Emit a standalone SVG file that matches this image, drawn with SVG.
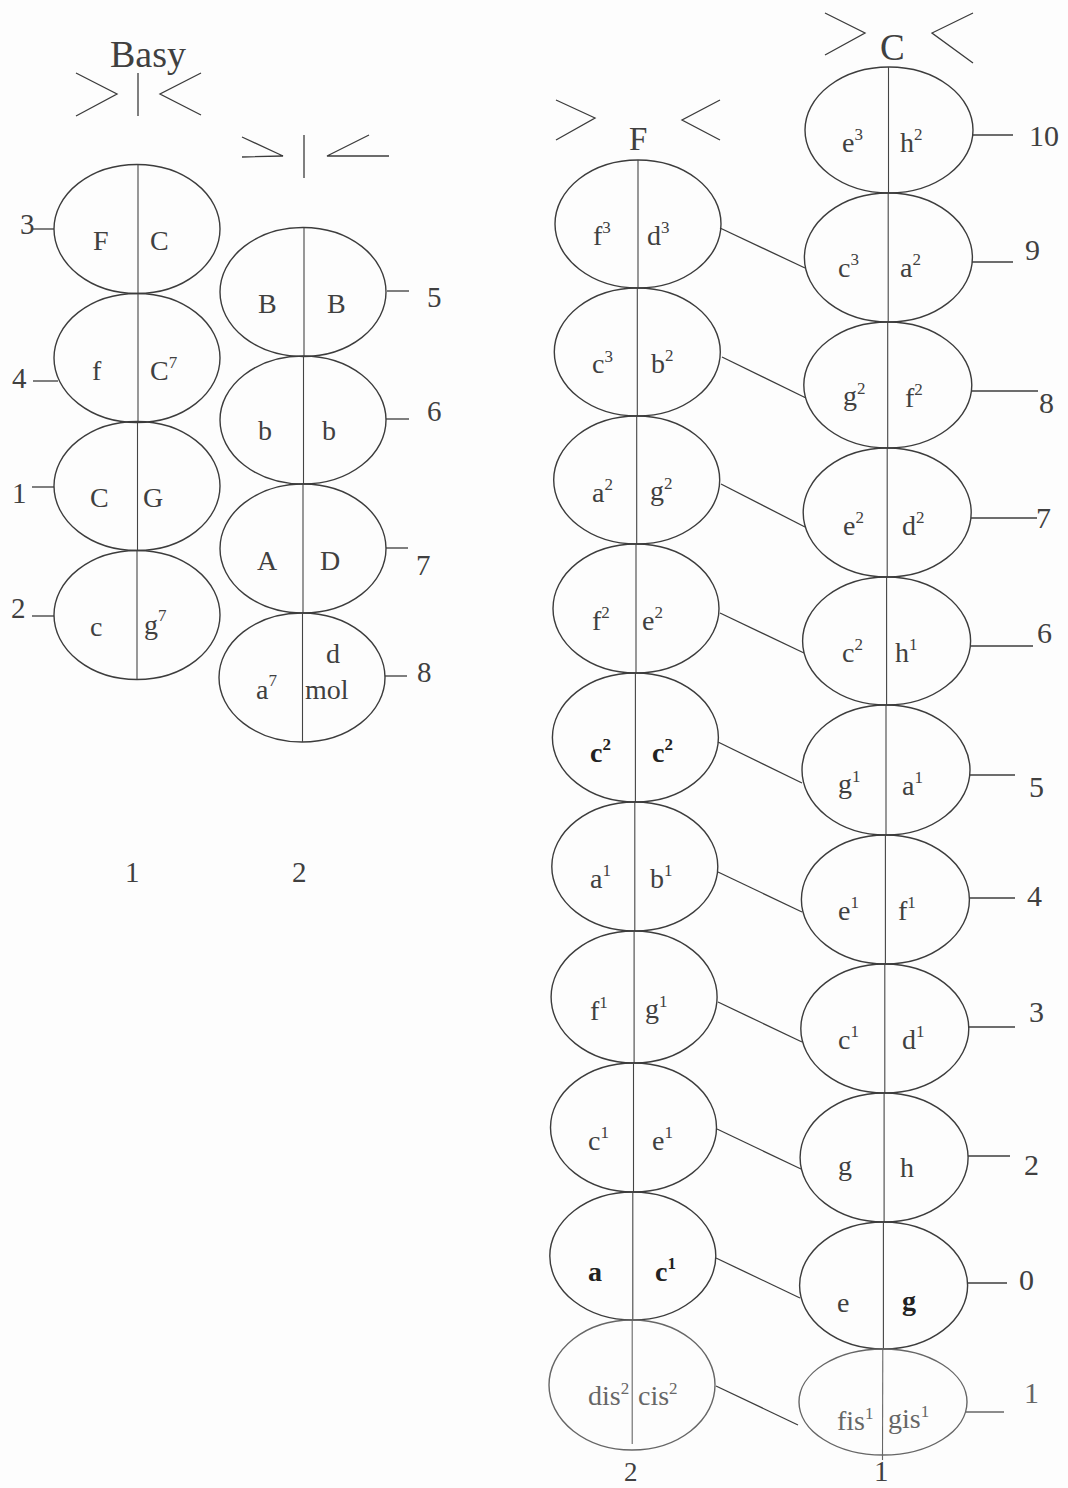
<svg xmlns="http://www.w3.org/2000/svg" width="1068" height="1488" viewBox="0 0 1068 1488">
<style>
  .bg { fill: #fdfdfd; }
  ellipse { fill: none; stroke: #3c3c3c; stroke-width: 1.4; }
  line, polyline { stroke: #3c3c3c; stroke-width: 1.3; fill: none; }
  .div { stroke: #444; stroke-width: 1.1; }
  text { font-family: "Liberation Serif", "Times New Roman", serif; fill: #404040; }
  .t { font-size: 28px; }
  .b { font-weight: bold; fill: #222; }
  .sup { font-size: 17px; }
  .lbl { font-size: 29px; }
  .rl { font-size: 30px; }
  .title { font-size: 38px; }
  .faded ellipse, .faded line { stroke: #666; }
  .faded text { fill: #666; }
</style>
<rect class="bg" x="0" y="0" width="1068" height="1488"/>

<!-- Headers -->
<g id="header-basy">
  <text class="title" x="110" y="67">Basy</text>
  <polyline points="76,73 117,94 76,116"/>
  <line x1="138" y1="73" x2="138" y2="116"/>
  <polyline points="201,73 160,94 201,115"/>
</g>
<g id="header-basy2">
  <polyline points="242,137 283,156 242,157"/>
  <line x1="304" y1="135" x2="304" y2="178"/>
  <polyline points="369,135 327,156 389,156"/>
</g>
<g id="header-F">
  <polyline points="556,100 595,118 556,140"/>
  <text x="629" y="150" style="font-size:33px">F</text>
  <polyline points="720,100 682,120 720,140"/>
</g>
<g id="header-C">
  <polyline points="825,13 865,33 825,55"/>
  <text x="880" y="60" style="font-size:37px">C</text>
  <polyline points="973,13 932,33 973,63"/>
</g>

<!-- Basy column 1 -->
<g id="b1-1">
  <ellipse cx="137" cy="229" rx="83" ry="64.5"/>
  <line class="div" x1="138" y1="164.5" x2="138" y2="293.5"/>
  <text class="t" x="93" y="250">F</text>
  <text class="t" x="150" y="250">C</text>
  <line x1="33" y1="229" x2="54" y2="229"/>
  <text class="lbl" x="20" y="234">3</text>
</g>
<g id="b1-2">
  <ellipse cx="137" cy="358" rx="83" ry="64.5"/>
  <line class="div" x1="138" y1="293.5" x2="138" y2="422.5"/>
  <text class="t" x="92" y="380">f</text>
  <text class="t" x="150" y="380">C<tspan class="sup" dy="-12">7</tspan></text>
  <line x1="33" y1="381" x2="58" y2="381"/>
  <text class="lbl" x="12" y="388">4</text>
</g>
<g id="b1-3">
  <ellipse cx="137" cy="486" rx="83" ry="64.5"/>
  <line class="div" x1="137.5" y1="422.5" x2="137.5" y2="550.5"/>
  <text class="t" x="90" y="507">C</text>
  <text class="t" x="143" y="507">G</text>
  <line x1="32" y1="487" x2="54" y2="487"/>
  <text class="lbl" x="12" y="503">1</text>
</g>
<g id="b1-4">
  <ellipse cx="137" cy="615" rx="83" ry="64.5"/>
  <line class="div" x1="137" y1="550.5" x2="137" y2="679.5"/>
  <text class="t" x="90" y="636">c</text>
  <text class="t" x="144" y="634">g<tspan class="sup" dy="-13">7</tspan></text>
  <line x1="32" y1="616" x2="54" y2="616"/>
  <text class="lbl" x="11" y="618">2</text>
</g>

<!-- Basy column 2 -->
<g id="b2-5">
  <ellipse cx="303" cy="292" rx="83" ry="64.5"/>
  <line class="div" x1="304" y1="227.5" x2="304" y2="356.5"/>
  <text class="t" x="258" y="313">B</text>
  <text class="t" x="327" y="313">B</text>
  <line x1="387" y1="291" x2="409" y2="291"/>
  <text class="lbl" x="427" y="307">5</text>
</g>
<g id="b2-6">
  <ellipse cx="303" cy="420" rx="83" ry="64"/>
  <line class="div" x1="303.5" y1="356" x2="303.5" y2="484"/>
  <text class="t" x="258" y="440">b</text>
  <text class="t" x="322" y="440">b</text>
  <line x1="386" y1="419" x2="409" y2="419"/>
  <text class="lbl" x="427" y="421">6</text>
</g>
<g id="b2-7">
  <ellipse cx="303" cy="548.5" rx="83" ry="64.5"/>
  <line class="div" x1="303" y1="484" x2="303" y2="613"/>
  <text class="t" x="257" y="570">A</text>
  <text class="t" x="320" y="570">D</text>
  <line x1="386" y1="548" x2="408" y2="548"/>
  <text class="lbl" x="416" y="575">7</text>
</g>
<g id="b2-8">
  <ellipse cx="302" cy="677.5" rx="83" ry="64.5"/>
  <line class="div" x1="302.5" y1="613" x2="302.5" y2="742"/>
  <text class="t" x="256" y="699">a<tspan class="sup" dy="-13">7</tspan></text>
  <text class="t" x="326" y="663">d</text>
  <text class="t" x="305" y="699">mol</text>
  <line x1="385" y1="676" x2="407" y2="676"/>
  <text class="lbl" x="417" y="682">8</text>
</g>

<g id="basy-footer">
  <text class="lbl" x="125" y="882">1</text>
  <text class="lbl" x="292" y="882">2</text>
</g>

<!-- F column -->
<g id="F1">
  <ellipse cx="638" cy="224" rx="83" ry="64"/>
  <line class="div" x1="638" y1="160" x2="638" y2="288"/>
  <text class="t" x="593" y="245">f<tspan class="sup" dy="-12">3</tspan></text>
  <text class="t" x="647" y="245">d<tspan class="sup" dy="-12">3</tspan></text>
</g>
<g id="F2">
  <ellipse cx="637.3" cy="352" rx="83" ry="64"/>
  <line class="div" x1="637.3" y1="288" x2="637.3" y2="416"/>
  <text class="t" x="592" y="373">c<tspan class="sup" dy="-11">3</tspan></text>
  <text class="t" x="651" y="373">b<tspan class="sup" dy="-12">2</tspan></text>
</g>
<g id="F3">
  <ellipse cx="636.7" cy="480" rx="83" ry="64"/>
  <line class="div" x1="636.7" y1="416" x2="636.7" y2="544"/>
  <text class="t" x="592" y="502">a<tspan class="sup" dy="-12">2</tspan></text>
  <text class="t" x="650" y="500">g<tspan class="sup" dy="-11">2</tspan></text>
</g>
<g id="F4">
  <ellipse cx="636" cy="608.5" rx="83" ry="64.5"/>
  <line class="div" x1="636" y1="544" x2="636" y2="673"/>
  <text class="t" x="592" y="630">f<tspan class="sup" dy="-12">2</tspan></text>
  <text class="t" x="642" y="630">e<tspan class="sup" dy="-12">2</tspan></text>
</g>
<g id="F5">
  <ellipse cx="635.4" cy="737.5" rx="83" ry="64.5"/>
  <line class="div" x1="635.4" y1="673" x2="635.4" y2="802"/>
  <text class="t b" x="590" y="762">c<tspan class="sup" dy="-12">2</tspan></text>
  <text class="t b" x="652" y="762">c<tspan class="sup" dy="-12">2</tspan></text>
</g>
<g id="F6">
  <ellipse cx="634.8" cy="866.5" rx="83" ry="64.5"/>
  <line class="div" x1="634.8" y1="802" x2="634.8" y2="931"/>
  <text class="t" x="590" y="888">a<tspan class="sup" dy="-12">1</tspan></text>
  <text class="t" x="650" y="888">b<tspan class="sup" dy="-12">1</tspan></text>
</g>
<g id="F7">
  <ellipse cx="634.1" cy="997" rx="83" ry="66"/>
  <line class="div" x1="634.1" y1="931" x2="634.1" y2="1063"/>
  <text class="t" x="590" y="1020">f<tspan class="sup" dy="-12">1</tspan></text>
  <text class="t" x="645" y="1018">g<tspan class="sup" dy="-11">1</tspan></text>
</g>
<g id="F8">
  <ellipse cx="633.5" cy="1127.5" rx="83" ry="64.5"/>
  <line class="div" x1="633.5" y1="1063" x2="633.5" y2="1192"/>
  <text class="t" x="588" y="1150">c<tspan class="sup" dy="-12">1</tspan></text>
  <text class="t" x="652" y="1150">e<tspan class="sup" dy="-12">1</tspan></text>
</g>
<g id="F9">
  <ellipse cx="632.8" cy="1256" rx="83" ry="64"/>
  <line class="div" x1="632.8" y1="1192" x2="632.8" y2="1320"/>
  <text class="t b" x="588" y="1281">a</text>
  <text class="t b" x="655" y="1281">c<tspan class="sup" dy="-12">1</tspan></text>
</g>
<g id="F10" class="faded">
  <ellipse cx="632" cy="1385" rx="83" ry="65"/>
  <line class="div" x1="632.2" y1="1320" x2="632.2" y2="1444"/>
  <text class="t" x="588" y="1405">dis<tspan class="sup" dy="-11">2</tspan></text>
  <text class="t" x="638" y="1405">cis<tspan class="sup" dy="-11">2</tspan></text>
</g>
<g id="F-footer">
  <text x="624" y="1481" style="font-size:27px">2</text>
</g>

<!-- C column -->
<g id="C10">
  <ellipse cx="889" cy="130" rx="84" ry="63"/>
  <line class="div" x1="888.5" y1="67" x2="888.5" y2="193"/>
  <text class="t" x="842" y="152">e<tspan class="sup" dy="-12">3</tspan></text>
  <text class="t" x="900" y="152">h<tspan class="sup" dy="-12">2</tspan></text>
  <line x1="973" y1="135" x2="1013" y2="135"/>
  <text class="rl" x="1029" y="146">10</text>
</g>
<g id="C9">
  <ellipse cx="888.4" cy="257.5" rx="84" ry="64.5"/>
  <line class="div" x1="888.2" y1="193" x2="888.2" y2="322"/>
  <text class="t" x="838" y="277">c<tspan class="sup" dy="-12">3</tspan></text>
  <text class="t" x="900" y="277">a<tspan class="sup" dy="-12">2</tspan></text>
  <line x1="972" y1="262" x2="1013" y2="262"/>
  <text class="rl" x="1025" y="260">9</text>
</g>
<g id="C8">
  <ellipse cx="887.8" cy="385" rx="84" ry="63"/>
  <line class="div" x1="887.7" y1="322" x2="887.7" y2="448"/>
  <text class="t" x="843" y="405">g<tspan class="sup" dy="-11">2</tspan></text>
  <text class="t" x="905" y="407">f<tspan class="sup" dy="-12">2</tspan></text>
  <line x1="972" y1="391" x2="1038" y2="391"/>
  <text class="rl" x="1039" y="413">8</text>
</g>
<g id="C7">
  <ellipse cx="887.2" cy="512.5" rx="84" ry="64.5"/>
  <line class="div" x1="887.2" y1="448" x2="887.2" y2="577"/>
  <text class="t" x="843" y="535">e<tspan class="sup" dy="-12">2</tspan></text>
  <text class="t" x="902" y="535">d<tspan class="sup" dy="-12">2</tspan></text>
  <line x1="971" y1="518" x2="1037" y2="518"/>
  <text class="rl" x="1036" y="528">7</text>
</g>
<g id="C6">
  <ellipse cx="886.6" cy="641" rx="84" ry="64"/>
  <line class="div" x1="886.6" y1="577" x2="886.6" y2="705"/>
  <text class="t" x="842" y="662">c<tspan class="sup" dy="-12">2</tspan></text>
  <text class="t" x="895" y="662">h<tspan class="sup" dy="-12">1</tspan></text>
  <line x1="971" y1="646" x2="1033" y2="646"/>
  <text class="rl" x="1037" y="643">6</text>
</g>
<g id="C5">
  <ellipse cx="886" cy="770" rx="84" ry="65"/>
  <line class="div" x1="886" y1="705" x2="886" y2="835"/>
  <text class="t" x="838" y="793">g<tspan class="sup" dy="-11">1</tspan></text>
  <text class="t" x="902" y="795">a<tspan class="sup" dy="-12">1</tspan></text>
  <line x1="970" y1="775" x2="1015" y2="775"/>
  <text class="rl" x="1029" y="797">5</text>
</g>
<g id="C4">
  <ellipse cx="885.4" cy="899.5" rx="84" ry="64.5"/>
  <line class="div" x1="885.4" y1="835" x2="885.4" y2="964"/>
  <text class="t" x="838" y="920">e<tspan class="sup" dy="-12">1</tspan></text>
  <text class="t" x="898" y="920">f<tspan class="sup" dy="-12">1</tspan></text>
  <line x1="969" y1="898" x2="1015" y2="898"/>
  <text class="rl" x="1027" y="906">4</text>
</g>
<g id="C3">
  <ellipse cx="884.8" cy="1028.5" rx="84" ry="64.5"/>
  <line class="div" x1="884.8" y1="964" x2="884.8" y2="1093"/>
  <text class="t" x="838" y="1049">c<tspan class="sup" dy="-12">1</tspan></text>
  <text class="t" x="902" y="1049">d<tspan class="sup" dy="-12">1</tspan></text>
  <line x1="969" y1="1027" x2="1015" y2="1027"/>
  <text class="rl" x="1029" y="1022">3</text>
</g>
<g id="C2">
  <ellipse cx="884.1" cy="1157.5" rx="84" ry="64.5"/>
  <line class="div" x1="884.1" y1="1093" x2="884.1" y2="1222"/>
  <text class="t" x="838" y="1175">g</text>
  <text class="t" x="900" y="1177">h</text>
  <line x1="968" y1="1156" x2="1010" y2="1156"/>
  <text class="rl" x="1024" y="1175">2</text>
</g>
<g id="C0">
  <ellipse cx="883.6" cy="1285.5" rx="84" ry="63.5"/>
  <line class="div" x1="883.4" y1="1222" x2="883.4" y2="1349"/>
  <text class="t" x="837" y="1312">e</text>
  <text class="t b" x="902" y="1310">g</text>
  <line x1="967" y1="1283" x2="1007" y2="1283"/>
  <text class="rl" x="1019" y="1290">0</text>
</g>
<g id="C1" class="faded">
  <ellipse cx="883" cy="1402" rx="84" ry="53"/>
  <line class="div" x1="882.8" y1="1349" x2="882.5" y2="1460"/>
  <text class="t" x="837" y="1430">fis<tspan class="sup" dy="-11">1</tspan></text>
  <text class="t" x="888" y="1428">gis<tspan class="sup" dy="-11">1</tspan></text>
  <line x1="966" y1="1412" x2="1004" y2="1412"/>
  <text class="rl" x="1024" y="1403">1</text>
</g>
<g id="C-footer">
  <text class="lbl" x="874" y="1481">1</text>
</g>

<!-- Connectors -->
<g id="connectors">
  <line x1="720" y1="228" x2="805" y2="268"/>
  <line x1="722" y1="357" x2="806" y2="398"/>
  <line x1="721" y1="484" x2="805" y2="527"/>
  <line x1="720" y1="613" x2="804" y2="653"/>
  <line x1="718" y1="742" x2="802" y2="783"/>
  <line x1="718" y1="872" x2="802" y2="912"/>
  <line x1="718" y1="1002" x2="802" y2="1042"/>
  <line x1="717" y1="1129" x2="801" y2="1169"/>
  <line x1="716" y1="1258" x2="800" y2="1298"/>
  <line x1="716" y1="1386" x2="798" y2="1425"/>
</g>
</svg>
